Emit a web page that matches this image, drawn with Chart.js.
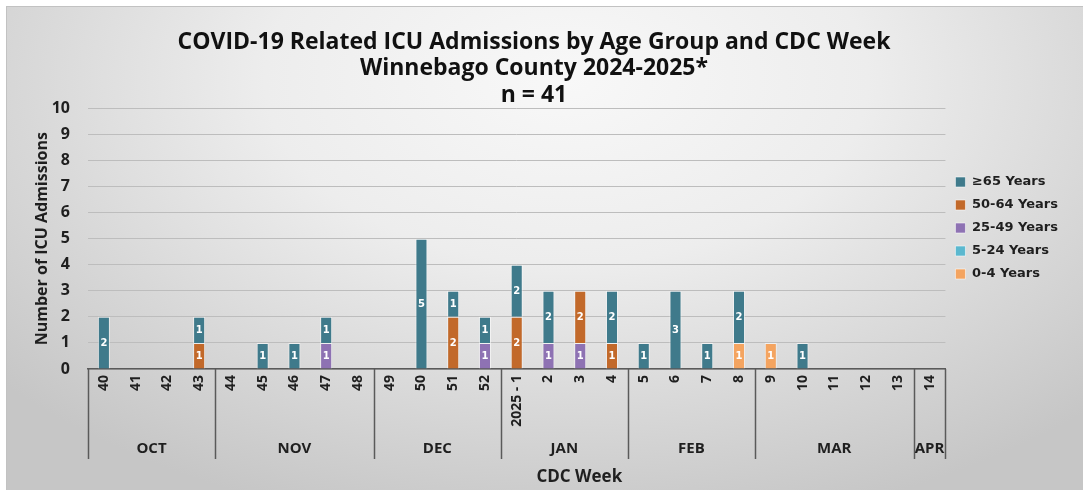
<!DOCTYPE html>
<html><head><meta charset="utf-8">
<script src="https://cdn.jsdelivr.net/npm/chart.js@4.4.1/dist/chart.umd.min.js"></script>
<style>
html,body{margin:0;padding:0;background:#fff;overflow:hidden;}
#bg{position:absolute;left:6px;top:6px;width:1077px;height:484px;box-sizing:border-box;
  border-top:1px solid #c2c2c2;border-left:1px solid #c2c2c2;
  background:radial-gradient(ellipse 70% 95% at 52% 15%, #f8f8f8 0%, #ededed 40%, #d8d8d8 72%, #c6c6c6 100%);}
#c{position:absolute;left:0;top:0;}
</style></head><body>
<div id="bg"></div>
<canvas id="c" width="1083" height="490"></canvas>
<script>
// ---- data ----
const weeks = ['40','41','42','43','44','45','46','47','48','49','50','51','52','2025 - 1','2','3','4','5','6','7','8','9','10','11','12','13','14'];
const months = ['OCT','NOV','DEC','JAN','FEB','MAR','APR'];
const monthSpans = [4,5,4,4,4,5,1];
const seriesNames = ['0-4 Years','5-24 Years','25-49 Years','50-64 Years','\u226565 Years'];
const age0to4   = [0,0,0,0,0,0,0,0,0,0,0,0,0,0,0,0,0,0,0,0,1,1,0,0,0,0,0];
const age5to24  = [0,0,0,0,0,0,0,0,0,0,0,0,0,0,0,0,0,0,0,0,0,0,0,0,0,0,0];
const age25to49 = [0,0,0,0,0,0,0,1,0,0,0,0,1,0,1,1,0,0,0,0,0,0,0,0,0,0,0];
const age50to64 = [0,0,0,1,0,0,0,0,0,0,0,2,0,2,0,2,1,0,0,0,0,0,0,0,0,0,0];
const age65plus = [2,0,0,1,0,1,1,1,0,0,5,1,1,2,2,0,2,1,3,1,2,0,1,0,0,0,0];
const yTicks = [0,1,2,3,4,5,6,7,8,9,10];
const colors = ['#f4a460','#5bb8cf','#8e72b3','#c2692a','#3f7a8b'];

const seriesData = [age0to4, age5to24, age25to49, age50to64, age65plus];

const textColor = '#1f1f1f';
const baseFont = '"Open Sans", Lato, sans-serif';

const segLabels = {
  id: 'segLabels',
  afterDatasetsDraw(chart) {
    const ctx = chart.ctx;
    ctx.save();
    ctx.font = 'bold 10px "DejaVu Sans", sans-serif';
    ctx.fillStyle = '#ffffff';
    ctx.textAlign = 'center';
    ctx.textBaseline = 'middle';
    chart.data.datasets.forEach((ds, i) => {
      const meta = chart.getDatasetMeta(i);
      meta.data.forEach((el, j) => {
        const v = ds.data[j];
        if (v > 0) ctx.fillText(String(v), el.x, (el.y + el.base) / 2 + 1);
      });
    });
    ctx.restore();
  }
};

const monthAxis = {
  id: 'monthAxis',
  afterDraw(chart) {
    const ctx = chart.ctx;
    const xs = chart.scales.x;
    const top = chart.chartArea.bottom;
    const lineBottom = top + 90;
    ctx.save();
    ctx.strokeStyle = '#5a5a5a';
    ctx.lineWidth = 1.5;
    let idx = 0;
    const bounds = [xs.left];
    monthSpans.forEach((n) => {
      idx += n;
      if (idx >= weeks.length) bounds.push(xs.right);
      else bounds.push((xs.getPixelForValue(idx - 1) + xs.getPixelForValue(idx)) / 2);
    });
    bounds.forEach((bx) => {
      ctx.beginPath();
      ctx.moveTo(Math.round(bx) + 0.5, top);
      ctx.lineTo(Math.round(bx) + 0.5, lineBottom);
      ctx.stroke();
    });
    ctx.fillStyle = textColor;
    ctx.font = 'bold 15px ' + baseFont;
    ctx.textAlign = 'center';
    ctx.textBaseline = 'middle';
    months.forEach((m, i) => {
      ctx.fillText(m, (bounds[i] + bounds[i + 1]) / 2, top + 80);
    });
    ctx.font = 'bold 17px ' + baseFont;
    const ca = chart.chartArea;
    ctx.fillText('CDC Week', ca.left + (ca.right - ca.left) * 0.573, top + 108);
    ctx.restore();
  }
};

new Chart(document.getElementById('c'), {
  type: 'bar',
  data: {
    labels: weeks,
    datasets: seriesNames.map((name, i) => ({
      label: name,
      data: seriesData[i],
      backgroundColor: colors[i],
      borderColor: 'rgba(255,255,255,0.55)',
      borderWidth: 1,
      categoryPercentage: 1,
      barPercentage: 0.38
    }))
  },
  options: {
    responsive: false,
    animation: false,
    devicePixelRatio: 1,
    layout: { padding: { left: 0, right: 15, top: 0, bottom: 34 } },
    plugins: {
      tooltip: { enabled: false },
      title: {
        display: true,
        text: ['COVID-19 Related ICU Admissions by Age Group and CDC Week', 'Winnebago County 2024-2025*', 'n = 41'],
        color: '#111111',
        font: { family: baseFont, size: 23, weight: 'bold', lineHeight: 1.15 },
        padding: { top: 29, bottom: 0 }
      },
      legend: {
        display: true,
        position: 'right',
        align: 'center',
        reverse: true,
        labels: {
          boxWidth: 10,
          boxHeight: 10,
          padding: 10,
          color: textColor,
          font: { family: '"DejaVu Sans", sans-serif', size: 13, weight: 'bold' }
        }
      }
    },
    scales: {
      x: {
        stacked: true,
        grid: { display: false, drawTicks: false },
        border: { display: true, color: '#5a5a5a', width: 1.5 },
        ticks: {
          autoSkip: false,
          maxRotation: 90,
          minRotation: 90,
          padding: 6,
          color: textColor,
          font: { family: baseFont, size: 14, weight: 'bold' }
        },
        afterFit(s) { s.height = 87; }
      },
      y: {
        stacked: true,
        min: 0,
        max: 10,
        afterBuildTicks(s) { s.ticks = yTicks.map(v => ({ value: v })); },
        grid: { color: '#bdbdbd', lineWidth: 1, drawTicks: false },
        border: { display: false },
        ticks: {
          padding: 18,
          color: textColor,
          font: { family: baseFont, size: 16, weight: 'bold' }
        },
        title: {
          display: true,
          text: 'Number of ICU Admissions',
          color: textColor,
          font: { family: baseFont, size: 16, weight: 'bold' },
          padding: { top: 33, bottom: 0 }
        },
        afterFit(s) { s.width = 88; }
      }
    }
  },
  plugins: [segLabels, monthAxis]
});
</script>
</body></html>
